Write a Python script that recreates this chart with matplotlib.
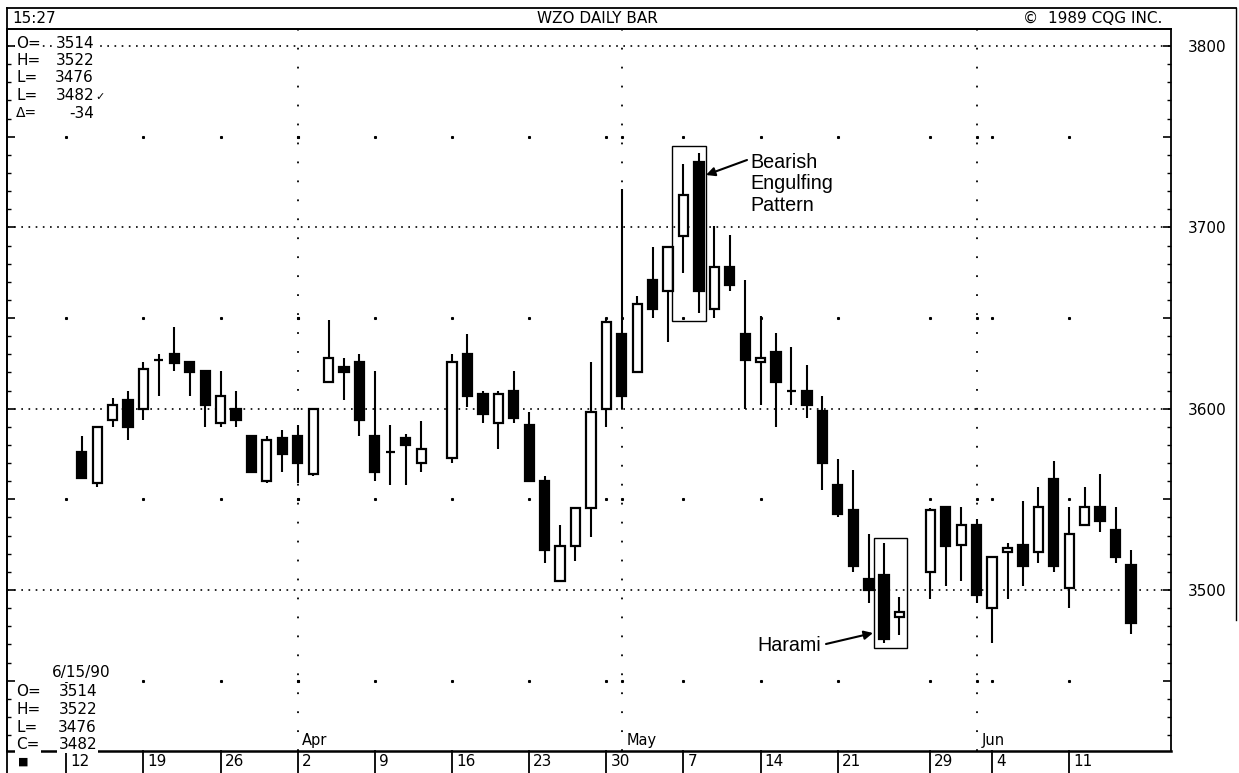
import matplotlib
matplotlib.use("Agg")
import matplotlib.pyplot as plt
from matplotlib.patches import Rectangle
from matplotlib.lines import Line2D

# ---------------- data (WZO daily bars, 13 Mar - 15 Jun 1990) ----------------
# slot = weekday count from Mar 13 1990 (holidays Apr 13 and May 28 left blank)
slots = [0, 1, 2, 3, 4, 5, 6, 7, 8, 9, 10, 11, 12, 13, 14, 15, 16, 17, 18, 19,
         20, 21, 22, 24, 25, 26, 27, 28, 29, 30, 31, 32, 33, 34, 35, 36, 37, 38,
         39, 40, 41, 42, 43, 44, 45, 46, 47, 48, 49, 50, 51, 52, 53, 55, 56, 57,
         58, 59, 60, 61, 62, 63, 64, 65, 66, 67, 68]
opens = [3576, 3559, 3594, 3605, 3600, 3627, 3630, 3626, 3621, 3592, 3600, 3585,
         3560, 3584, 3585, 3564, 3615, 3623, 3626, 3585, 3576, 3584, 3570, 3573,
         3630, 3608, 3592, 3610, 3591, 3560, 3505, 3524, 3545, 3600, 3641, 3620,
         3671, 3665, 3695, 3736, 3655, 3678, 3641, 3626, 3631, 3610, 3610, 3599,
         3558, 3544, 3506, 3508, 3485, 3510, 3546, 3525, 3536, 3490, 3521, 3525,
         3521, 3561, 3501, 3536, 3546, 3533, 3514]
highs = [3585, 3590, 3606, 3610, 3626, 3630, 3645, 3626, 3621, 3621, 3610, 3585,
         3585, 3588, 3591, 3600, 3649, 3628, 3630, 3621, 3591, 3586, 3593, 3630,
         3641, 3610, 3610, 3621, 3598, 3563, 3536, 3545, 3626, 3650, 3721, 3662,
         3689, 3690, 3735, 3741, 3701, 3696, 3671, 3651, 3642, 3634, 3624, 3607,
         3572, 3566, 3531, 3526, 3496, 3545, 3546, 3546, 3539, 3518, 3526, 3549,
         3557, 3571, 3546, 3557, 3564, 3546, 3522]
lows = [3561, 3557, 3590, 3583, 3594, 3607, 3621, 3607, 3590, 3590, 3590, 3565,
        3559, 3565, 3559, 3563, 3615, 3605, 3585, 3560, 3558, 3558, 3565, 3570,
        3601, 3592, 3578, 3592, 3560, 3515, 3505, 3516, 3529, 3590, 3600, 3620,
        3650, 3637, 3675, 3653, 3650, 3665, 3600, 3602, 3590, 3602, 3595, 3555,
        3540, 3510, 3493, 3471, 3475, 3495, 3502, 3505, 3493, 3471, 3495, 3502,
        3515, 3510, 3490, 3536, 3532, 3515, 3476]
closes = [3562, 3590, 3602, 3590, 3622, 3627, 3625, 3620, 3602, 3607, 3594, 3565,
          3583, 3575, 3570, 3600, 3628, 3620, 3594, 3565, 3576, 3580, 3578, 3626,
          3607, 3597, 3608, 3595, 3560, 3522, 3524, 3545, 3598, 3648, 3607, 3658,
          3655, 3689, 3718, 3665, 3678, 3668, 3627, 3628, 3615, 3610, 3602, 3570,
          3542, 3513, 3500, 3473, 3488, 3544, 3524, 3536, 3497, 3518, 3523, 3513,
          3546, 3513, 3531, 3546, 3538, 3518, 3482]

week_slots = [-1, 4, 9, 14, 19, 24, 29, 34, 39, 44, 49, 55, 59, 64]
week_labels = ["12", "19", "26", "2", "9", "16", "23", "30", "7", "14", "21",
               "29", "4", "11"]
month_slots = [14, 35, 58]
month_labels = ["Apr", "May", "Jun"]
price_ticks = [3500, 3600, 3700, 3800]
half_levels = [3450, 3550, 3650, 3750]

last_ohlc_labels = ["O=", "H=", "L=", "L="]
last_ohlc_values = ["3514", "3522", "3476", "3482"]
change_value = "-34"
date_label = "6/15/90"
bottom_labels = ["O=", "H=", "L=", "C="]
bottom_values = ["3514", "3522", "3476", "3482"]

# ---------------- layout (pixel geometry of the reference) ----------------
W, H = 1239, 773
X0, DX = 81.7, 15.43          # pixel of slot 0, pixels per slot
Y3500, DY = 590.0, 1.813      # pixel of 3500, pixels per point
L_PX, R_PX, T_PX, B_PX = 6.5, 1171.0, 29.0, 751.0

def sx(px):
    return (px - X0) / DX

def py(ypx):
    return 3500 + (Y3500 - ypx) / DY

FONT = "DejaVu Sans"
plt.rcParams["font.family"] = [FONT]

fig = plt.figure(figsize=(W / 100, H / 100), dpi=100)
fig.patch.set_facecolor("white")
ax = fig.add_axes([L_PX / W, 1 - B_PX / H, (R_PX - L_PX) / W, (B_PX - T_PX) / H])
ax.set_xlim(sx(L_PX), sx(R_PX))
ax.set_ylim(py(B_PX), py(T_PX))
ax.set_facecolor("white")
for s in ax.spines.values():
    s.set_linewidth(1.3)
ax.spines["bottom"].set_linewidth(1.8)

# grid: dotted price lines, month lines, sparse dots
for p in price_ticks:
    ax.axhline(p, color="black", lw=1.2, ls=(0, (1, 3.3)), zorder=1)
for m in month_slots:
    ax.axvline(m, color="black", lw=1.3, ls=(0, (1, 9.5)), zorder=1)
for xs in week_slots + month_slots:
    ax.plot([xs] * len(half_levels), half_levels, ls="none", marker="s",
            ms=1.2, color="black", zorder=1)

# candles
ax.vlines(slots, lows, highs, color="black", lw=1.5, zorder=2)
bottoms = [min(o, c) for o, c in zip(opens, closes)]
heights = [abs(c - o) for o, c in zip(opens, closes)]
fills = ["white" if c >= o else "black" for o, c in zip(opens, closes)]
ax.bar(slots, heights, bottom=bottoms, width=0.6, color=fills,
       edgecolor="black", linewidth=1.6, zorder=3)

# pattern boxes and labels
ax.add_patch(Rectangle((sx(672.3), py(321)), sx(706) - sx(672.3), py(146) - py(321),
                       fill=False, lw=1.0, ec="black", zorder=4))
ax.add_patch(Rectangle((sx(874), py(648.3)), sx(907.3) - sx(874), py(538.3) - py(648.3),
                       fill=False, lw=1.0, ec="black", zorder=4))
ax.annotate("", xy=(sx(706), py(175)), xytext=(sx(747), py(160)),
            arrowprops=dict(arrowstyle="-|>", color="black", lw=1.5,
                            mutation_scale=13, shrinkA=0, shrinkB=0), zorder=5)
ax.text(sx(750), py(184), "Bearish\nEngulfing\nPattern", ha="left", va="center",
        fontsize=14.2, family="Liberation Sans", linespacing=1.15, zorder=5)
ax.annotate("", xy=(sx(873), py(633)), xytext=(sx(826), py(644)),
            arrowprops=dict(arrowstyle="-|>", color="black", lw=1.5,
                            mutation_scale=13, shrinkA=0, shrinkB=0), zorder=5)
ax.text(sx(757), py(646), "Harami", ha="left", va="center",
        fontsize=14.2, family="Liberation Sans", zorder=5)

# price axis on the right
ax.set_yticks(list(range(3450, 3801, 50)))
ax.set_yticklabels([str(v) if v in price_ticks else "" for v in range(3450, 3801, 50)])
ax.set_yticks(list(range(3420, 3810, 10)), minor=True)
ax.tick_params(axis="y", which="major", direction="in", length=6, width=1.2,
               left=True, right=True, labelleft=False, labelright=True,
               labelsize=11, pad=12)
ax.tick_params(axis="y", which="minor", direction="in", length=3, width=1.0,
               left=True, right=True)
ax.set_xticks([])

# date row below the chart
xt = ax.get_xaxis_transform()
row_h = (H - B_PX) / (B_PX - T_PX)
for ws, lab in zip(week_slots, week_labels):
    ax.plot([ws, ws], [0, -row_h], transform=xt, color="black", lw=1.3,
            clip_on=False)
    ax.text(ws + 0.26, -row_h * 0.5, lab, transform=xt, ha="left", va="center",
            fontsize=11, clip_on=False)
for ms_, lab in zip(month_slots, month_labels):
    ax.text(ms_ + 0.3, 11 / (B_PX - T_PX), lab, transform=xt, ha="left",
            va="center", fontsize=10.5, clip_on=False)

# ---------------- overlay in pixel coordinates: frame + screen texts ----------------
ov = fig.add_axes([0, 0, 1, 1], zorder=5)
ov.set_xlim(0, W)
ov.set_ylim(H, 0)
ov.axis("off")
ov.add_line(Line2D([L_PX, 1236], [8, 8], color="black", lw=1.3))
ov.add_line(Line2D([L_PX, L_PX], [8, H], color="black", lw=1.3))
ov.add_line(Line2D([1236, 1236], [8, 620], color="black", lw=1.0))
ov.add_line(Line2D([L_PX, R_PX], [T_PX, T_PX], color="black", lw=1.3))

ov.text(12, 18.5, "15:27", ha="left", va="center", fontsize=11)
ov.text(597, 18.5, "WZO DAILY BAR", ha="center", va="center", fontsize=11)
ov.text(1162, 18.5, "©  1989 CQG INC.", ha="right", va="center", fontsize=11)

bb = dict(facecolor="white", edgecolor="none", pad=1.0)
rows_top = [43, 60.5, 78, 95.5]
for yy, lab, val in zip(rows_top, last_ohlc_labels, last_ohlc_values):
    ov.text(16, yy, lab, ha="left", va="center", fontsize=11, bbox=bb)
    ov.text(94, yy, val, ha="right", va="center", fontsize=11, bbox=bb)
ov.text(95, 97, "✓", ha="left", va="center", fontsize=8)
ov.text(16, 113, "Δ=", ha="left", va="center", fontsize=10)
ov.text(94, 113, change_value, ha="right", va="center", fontsize=11, bbox=bb)

ov.text(52, 673, date_label, ha="left", va="center", fontsize=11, bbox=bb)
rows_bot = [691.5, 709, 727, 744.5]
for yy, lab, val in zip(rows_bot, bottom_labels, bottom_values):
    ov.text(16, yy, lab, ha="left", va="center", fontsize=11, bbox=bb)
    ov.text(97, yy, val, ha="right", va="center", fontsize=11, bbox=bb)
ov.text(18, 762, "■", ha="left", va="center", fontsize=8)

fig.savefig("out.png", dpi=100, facecolor="white")
